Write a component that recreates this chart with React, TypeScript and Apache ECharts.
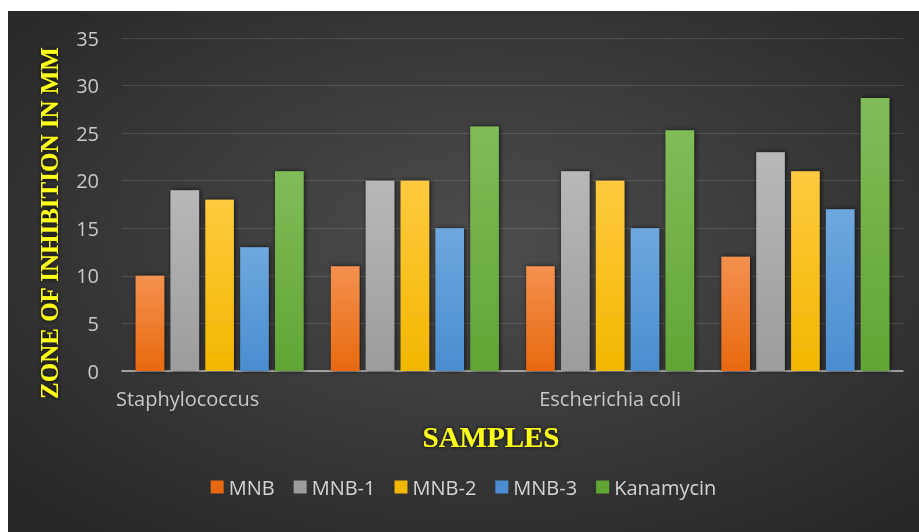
import React, { useEffect, useRef } from "react";
import * as echarts from "echarts";

// Bacterial samples on the category axis (unlabelled slots keep the group spacing)
const categories = ["Staphylococcus", "", "Escherichia coli", ""];

// Zone of inhibition (mm) for each sample
const seriesNames = ["MNB", "MNB-1", "MNB-2", "MNB-3", "Kanamycin"];
const mnb = [10, 11, 11, 12];
const mnb1 = [19, 20, 21, 23];
const mnb2 = [18, 20, 20, 21];
const mnb3 = [13, 15, 15, 17];
const kanamycin = [21, 25.7, 25.3, 28.7];

// Bar fills: [top, bottom] of a vertical gradient
const fills: [string, string][] = [
  ["#F4914F", "#E8690F"],
  ["#B8B8B8", "#9C9C9C"],
  ["#FFCA3F", "#F2B700"],
  ["#6EA8DE", "#4A8DD0"],
  ["#80BC58", "#61A535"],
];

const values = [mnb, mnb1, mnb2, mnb3, kanamycin];

export default function App() {
  const ref = useRef<HTMLDivElement>(null);

  useEffect(() => {
    if (!ref.current) return;
    const chart = echarts.init(ref.current, null, { renderer: "svg" });

    const series = seriesNames.map((name, i) => ({
      name,
      type: "bar" as const,
      data: values[i],
      barGap: "22%",
      barCategoryGap: "14%",
      itemStyle: {
        color: new echarts.graphic.LinearGradient(0, 0, 0, 1, [
          { offset: 0, color: fills[i][0] },
          { offset: 1, color: fills[i][1] },
        ]),
        shadowColor: "rgba(0,0,0,0.75)",
        shadowBlur: 5,
        shadowOffsetX: 1,
      },
    }));

    chart.setOption({
      animation: false,
      backgroundColor: new echarts.graphic.RadialGradient(0.52, 0.45, 0.72, [
        { offset: 0, color: "#4d4d4d" },
        { offset: 1, color: "#262626" },
      ]),
      grid: { left: 114, right: 16, top: 27, bottom: 161 },
      legend: {
        bottom: 30,
        left: "center",
        itemWidth: 13,
        itemHeight: 13,
        itemGap: 19,
        icon: "rect",
        textStyle: { color: "#d4d4d4", fontFamily: "Open Sans", fontSize: 20 },
        data: seriesNames.map((n, i) => ({ name: n, itemStyle: { color: fills[i][1] } })),
      },
      xAxis: {
        type: "category",
        data: categories,
        axisLine: { lineStyle: { color: "#c0c0c0", width: 1.5 } },
        axisTick: { show: false },
        axisLabel: {
          interval: 0,
          margin: 17,
          color: "#c8c8c8",
          fontFamily: "Open Sans",
          fontSize: 20,
          formatter: (v: string) => (v === "Staphylococcus" ? `{s|${v}}` : v),
          rich: {
            s: {
              color: "#c8c8c8",
              fontFamily: "Open Sans",
              fontSize: 20,
              padding: [0, 64, 0, 0],
            },
          },
        },
      },
      yAxis: {
        type: "value",
        min: 0,
        max: 35,
        interval: 5,
        axisLine: { show: false },
        axisTick: { show: false },
        splitLine: { lineStyle: { color: "rgba(255,255,255,0.13)", width: 1 } },
        axisLabel: {
          margin: 23,
          color: "#c8c8c8",
          fontFamily: "Open Sans",
          fontSize: 20,
        },
      },
      graphic: [
        {
          type: "text",
          x: 41,
          y: 212,
          rotation: Math.PI / 2,
          style: {
            text: "ZONE OF INHIBITION IN MM",
            fill: "#FFFF1A",
            font: "bold 25px 'Liberation Serif'",
            textAlign: "center",
            textVerticalAlign: "middle",
            textShadowColor: "rgba(0,0,0,0.9)",
            textShadowBlur: 4,
          },
        },
        {
          type: "text",
          x: 483,
          y: 426,
          style: {
            text: "SAMPLES",
            fill: "#FFFF1A",
            font: "bold 29px 'Liberation Serif'",
            textAlign: "center",
            textVerticalAlign: "middle",
            textShadowColor: "rgba(0,0,0,0.9)",
            textShadowBlur: 4,
          },
        },
      ],
      series,
    });

    return () => chart.dispose();
  }, []);

  return (
    <div
      ref={ref}
      style={{ position: "fixed", left: 8, top: 11, width: 911, height: 521 }}
    />
  );
}
